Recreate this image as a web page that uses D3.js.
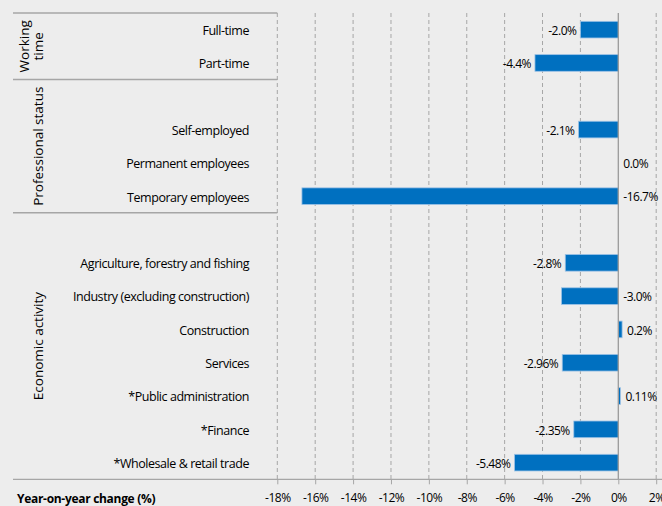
<!DOCTYPE html>
<html>
<head>
<meta charset="utf-8">
<script src="https://cdn.jsdelivr.net/npm/d3@7"></script>
<style>
  html, body { margin: 0; padding: 0; background: #ededed; }
  svg { display: block; }
  text { font-family: "Open Sans", Lato, sans-serif; }
</style>
</head>
<body>
<svg id="chart" width="662" height="506"></svg>
<script>
// ---- data ----
const categories = [
  "Full-time", "Part-time", "",
  "Self-employed", "Permanent employees", "Temporary employees", " ",
  "Agriculture, forestry and fishing", "Industry (excluding construction)", "Construction",
  "Services", "*Public administration", "*Finance", "*Wholesale & retail trade"
];
const values = [-2.0, -4.4, null, -2.1, 0.0, -16.7, null, -2.8, -3.0, 0.2, -2.96, 0.11, -2.35, -5.48];
const valueLabels = ["-2.0%", "-4.4%", "", "-2.1%", "0.0%", "-16.7%", "", "-2.8%", "-3.0%", "0.2%", "-2.96%", "0.11%", "-2.35%", "-5.48%"];
const labelAtZero = ["Temporary employees", "Industry (excluding construction)"];
const groups = [
  { name: ["Working", "time"], from: 0, to: 1 },
  { name: ["Professional status"], from: 2, to: 5 },
  { name: ["Economic activity"], from: 6, to: 13 }
];
const xTicks = [-18, -16, -14, -12, -10, -8, -6, -4, -2, 0, 2];
const xTitle = "Year-on-year change (%)";

// ---- layout ----
(function () {
const svg = d3.select("#chart");
const pLeft = 277.3, pRight = 656.2, pTop = 13, pBottom = 479.3;
const x = d3.scaleLinear().domain([-18, 2]).range([pLeft, pRight]);
const y = d3.scaleBand().domain(categories).range([pTop, pBottom]).paddingInner(0.5).paddingOuter(0.25);
const step = y.step();
const bandTop = i => pTop + i * step;

const gridColor = "#a6a6a6";
// gridlines
svg.append("g").selectAll("line").data(xTicks.filter(d => d !== 0)).join("line")
  .attr("x1", d => x(d)).attr("x2", d => x(d))
  .attr("y1", pTop).attr("y2", pBottom)
  .attr("stroke", gridColor).attr("stroke-width", 1).attr("stroke-dasharray", "4,3");

// x axis
const xAxis = d3.axisBottom(x).tickValues(xTicks).tickFormat(d => d + "%").tickSize(5).tickPadding(9);
const gx = svg.append("g").attr("transform", `translate(0,${pBottom})`).call(xAxis);
gx.select(".domain").remove();
gx.selectAll(".tick line").attr("stroke", gridColor);
gx.selectAll(".tick text").attr("font-size", 12).attr("fill", "#000").attr("font-family", "'Open Sans', sans-serif")
  .attr("letter-spacing", "-0.5");
svg.append("line").attr("x1", 13).attr("x2", 662).attr("y1", pBottom).attr("y2", pBottom)
  .attr("stroke", gridColor).attr("stroke-width", 1.3);

// group separators
[0, 2, 6].forEach(i => {
  svg.append("line").attr("x1", 13).attr("x2", pLeft).attr("y1", bandTop(i)).attr("y2", bandTop(i))
    .attr("stroke", gridColor).attr("stroke-width", 1.5);
});

// bars
const data = categories.map((c, i) => ({ c, v: values[i], lab: valueLabels[i] })).filter(d => d.v !== null);
svg.append("g").selectAll("rect").data(data.filter(d => d.v !== 0)).join("rect")
  .attr("x", d => x(Math.min(0, d.v)))
  .attr("width", d => Math.abs(x(d.v) - x(0)))
  .attr("y", d => y(d.c))
  .attr("height", y.bandwidth())
  .attr("fill", "#0070c0")
  .attr("stroke", "#9dc3e6").attr("stroke-width", 0.8);

// zero line
svg.append("line").attr("x1", x(0)).attr("x2", x(0)).attr("y1", pTop).attr("y2", pBottom)
  .attr("stroke", "#9a9a9a").attr("stroke-width", 1.3);

// value labels
const outside = d => d.v >= 0 || labelAtZero.includes(d.c);
svg.append("g").selectAll("text").data(data).join("text")
  .attr("x", d => outside(d) ? x(Math.max(0, d.v)) + 5 : x(d.v) - 4)
  .attr("y", d => y(d.c) + y.bandwidth() / 2 + 1)
  .attr("dy", "0.35em")
  .attr("text-anchor", d => outside(d) ? "start" : "end")
  .attr("font-size", 12).attr("letter-spacing", "-0.5").attr("fill", "#000")
  .text(d => d.lab);

// category labels
svg.append("g").selectAll("text").data(categories.filter(c => c.trim() !== "")).join("text")
  .attr("x", 249).attr("y", c => y(c) + y.bandwidth() / 2 + 1).attr("dy", "0.35em")
  .attr("text-anchor", "end").attr("font-size", 12.5).attr("letter-spacing", "-0.45").attr("fill", "#000")
  .text(c => c);

// group labels
groups.forEach(g => {
  const cy = (bandTop(g.from) + bandTop(g.to + 1)) / 2;
  const n = g.name.length;
  g.name.forEach((line, k) => {
    const cx = n === 1 ? 38 : 24 + k * 14;
    svg.append("text")
      .attr("transform", `translate(${cx},${cy}) rotate(-90)`)
      .attr("text-anchor", "middle").attr("dy", "0.35em")
      .attr("font-size", 13.5).attr("fill", "#000")
      .text(line);
  });
});

// x title
svg.append("text").attr("x", 17).attr("y", 503).attr("font-size", 12).attr("font-weight", "bold")
  .attr("letter-spacing", "-0.3").attr("fill", "#000").text(xTitle);
})();
</script>
</body>
</html>
